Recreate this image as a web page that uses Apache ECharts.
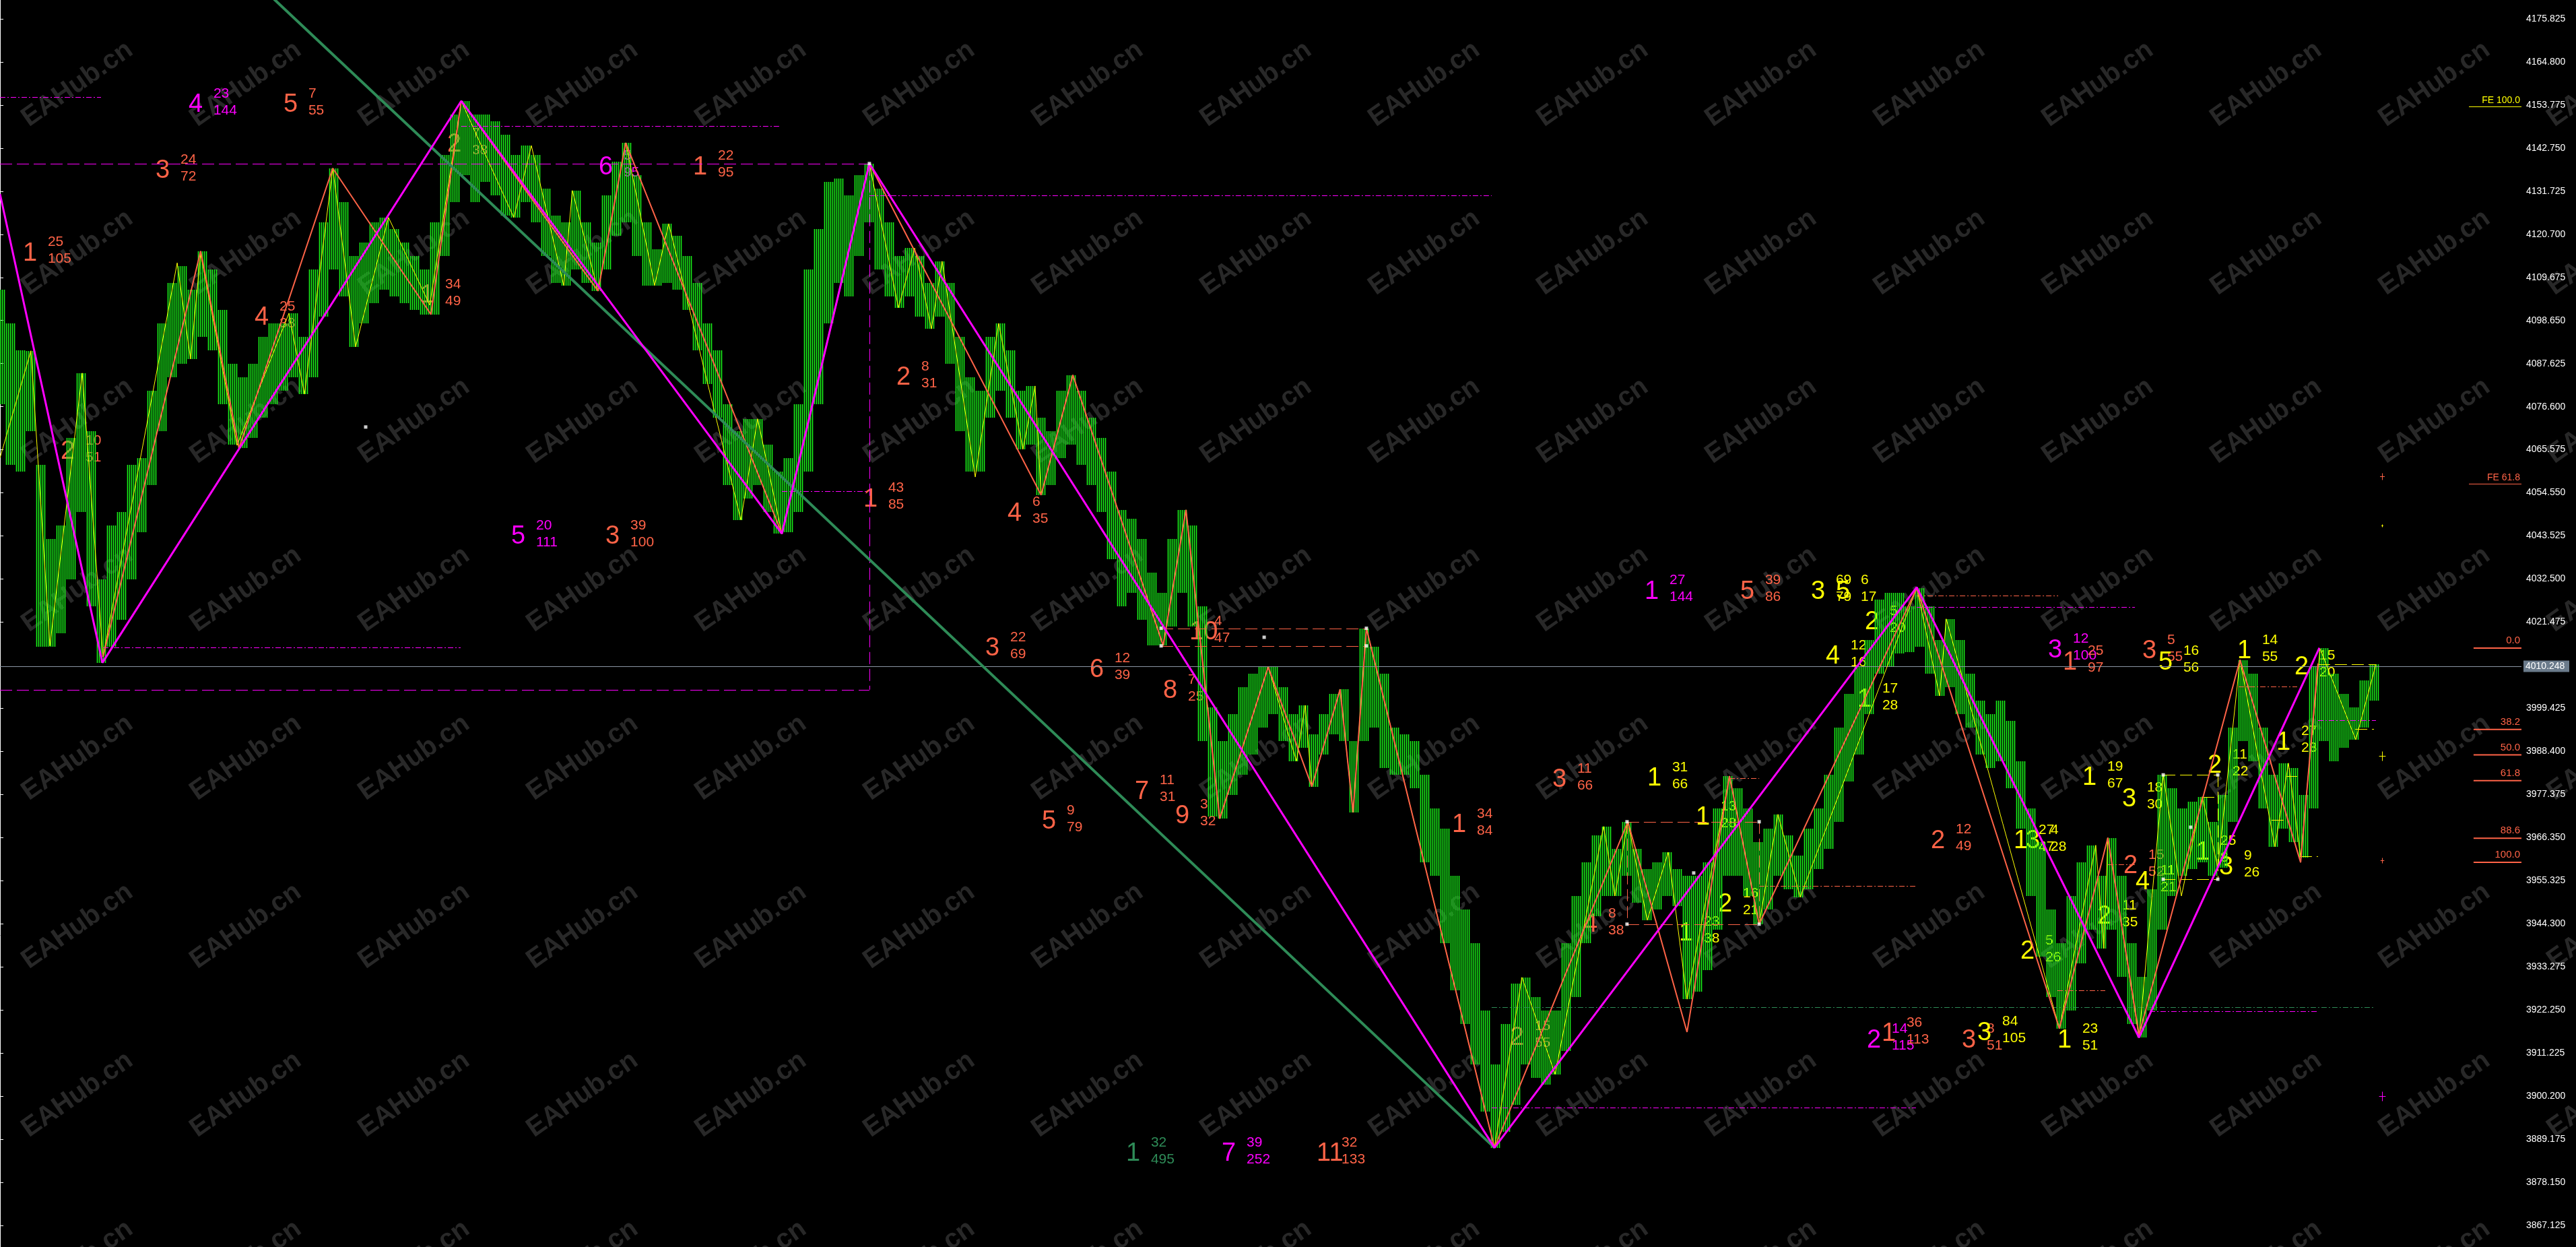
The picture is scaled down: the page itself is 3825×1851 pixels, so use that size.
<!DOCTYPE html>
<html><head><meta charset="utf-8">
<style>html,body{margin:0;padding:0;background:#000;}#c{width:3825px;height:1851px;}</style>
<script src="https://cdn.jsdelivr.net/npm/echarts@6/dist/echarts.min.js"></script>
</head><body><div id="c"></div>
<script>
// ---------- DATA ----------
const yTicks = [3867.125,3878.150,3889.175,3900.200,3911.225,3922.250,3933.275,3944.300,3955.325,3966.350,3977.375,3988.400,3999.425,4021.475,4032.500,4043.525,4054.550,4065.575,4076.600,4087.625,4098.650,4109.675,4120.700,4131.725,4142.750,4153.775,4164.800,4175.825];
const currentPrice = 4010.248;
// [bar, low, high]
const bars = [
[0,4077.2,4106.5],[5,4061.7,4097.9],[10,4060.0,4091.0],[15,4070.3,4090.9],[20,4015.2,4061.7],
[25,4015.2,4042.8],[30,4018.6,4046.2],[35,4032.4,4068.6],[40,4049.7,4085.2],[45,4025.5,4070.3],
[50,4011.1,4032.4],[55,4015.2,4046.2],[60,4022.1,4049.7],[65,4032.4,4061.7],[70,4044.5,4063.5],
[75,4056.6,4080.7],[80,4070.3,4097.9],[85,4084.1,4108.3],[90,4087.6,4112.6],[95,4088.8,4106.5],
[100,4094.5,4116.4],[105,4091.0,4111.7],[110,4077.2,4101.4],[115,4066.9,4087.6],[120,4066.0,4084.1],
[125,4068.6,4087.6],[130,4073.8,4094.5],[135,4077.2,4097.9],[140,4080.7,4097.9],[145,4084.1,4100.5],
[150,4079.8,4094.5],[155,4084.1,4111.7],[160,4099.6,4123.8],[165,4111.7,4137.6],[170,4104.8,4128.9],
[175,4091.9,4115.2],[180,4097.9,4118.6],[185,4103.1,4123.8],[190,4106.5,4125.0],[195,4104.8,4122.1],
[200,4103.1,4118.6],[205,4101.4,4115.2],[210,4100.2,4111.7],[215,4100.2,4123.8],[220,4115.2,4141.0],
[225,4128.9,4151.4],[230,4135.8,4154.8],[235,4128.9,4151.4],[240,4134.1,4151.4],[245,4130.7,4149.6],
[250,4125.5,4146.2],[255,4125.0,4141.0],[260,4128.9,4143.4],[265,4123.8,4141.0],[270,4115.2,4132.4],
[275,4108.3,4125.5],[280,4107.6,4123.8],[285,4111.7,4131.9],[290,4108.3,4123.8],[295,4106.2,4118.6],
[300,4111.7,4130.7],[305,4120.3,4139.3],[310,4123.8,4144.1],[315,4115.2,4135.8],[320,4107.6,4123.8],
[325,4107.6,4116.9],[330,4108.3,4123.4],[335,4106.5,4120.3],[340,4101.4,4115.2],[345,4091.0,4108.3],
[350,4082.4,4097.9],[355,4073.8,4091.0],[360,4056.6,4077.2],[365,4047.6,4070.3],[370,4053.1,4073.5],
[375,4056.6,4073.5],[380,4049.7,4066.9],[385,4044.1,4060.0],[390,4044.5,4063.5],[395,4049.7,4077.2],
[400,4060.0,4111.7],[405,4077.2,4122.1],[410,4097.9,4134.1],[415,4108.3,4135.0],[420,4104.8,4130.7],
[425,4115.2,4135.8],[430,4123.8,4138.8],[435,4111.7,4132.4],[440,4104.8,4123.8],[445,4101.9,4115.2],
[450,4104.8,4117.2],[455,4099.6,4115.2],[460,4096.5,4108.3],[465,4099.6,4113.8],[470,4087.6,4108.3],
[475,4070.3,4094.5],[480,4060.0,4084.1],[485,4060.0,4080.7],[490,4073.8,4094.5],[495,4080.7,4097.9],
[500,4073.8,4091.0],[505,4065.7,4080.7],[510,4066.9,4081.9],[515,4054.0,4073.8],[520,4056.6,4070.3],
[525,4063.5,4080.7],[530,4066.9,4084.7],[535,4061.7,4080.7],[540,4056.6,4073.8],[545,4049.7,4068.6],
[550,4037.6,4060.0],[555,4025.5,4050.2],[560,4029.0,4047.9],[565,4022.1,4042.8],[570,4015.5,4034.2],
[575,4015.5,4029.0],[580,4020.4,4042.8],[585,4029.0,4050.2],[590,4020.4,4046.2],[595,3991.1,4025.5],
[600,3971.8,3999.7],[605,3971.2,3991.1],[610,3977.3,3998.0],[615,3982.4,4004.9],[620,3987.6,4008.3],
[625,3994.5,4010.0],[630,3998.0,4010.0],[635,3991.1,4004.9],[640,3985.9,3998.0],[645,3989.3,4000.2],
[650,3979.4,3992.8],[655,3987.6,3998.0],[660,3992.8,4003.1],[665,3991.1,4004.3],[670,3972.8,3991.1],
[675,3991.1,4019.9],[680,3994.5,4015.2],[685,3984.2,4008.3],[690,3982.4,3994.5],[695,3982.4,3992.8],
[700,3979.0,3991.1],[705,3960.0,3982.4],[710,3956.6,3973.8],[715,3939.4,3968.7],[720,3927.3,3956.6],
[725,3918.7,3948.0],[730,3908.3,3939.4],[735,3896.3,3922.1],[740,3887.0,3908.3],[745,3891.1,3918.7],
[750,3898.0,3929.0],[755,3908.3,3930.6],[760,3904.9,3925.6],[765,3903.2,3922.1],[770,3905.8,3922.1],
[775,3911.8,3939.4],[780,3925.6,3951.4],[785,3939.4,3960.0],[790,3946.3,3966.9],[795,3951.4,3969.2],
[800,3951.4,3963.5],[805,3956.6,3970.4],[810,3949.7,3963.5],[815,3945.2,3958.3],[820,3948.0,3960.0],
[825,3951.4,3962.6],[830,3948.8,3958.3],[835,3925.0,3956.6],[840,3927.0,3956.6],[845,3932.5,3960.0],
[850,3942.8,3973.8],[855,3956.6,3982.1],[860,3956.6,3979.0],[865,3951.4,3973.8],[870,3944.2,3965.2],
[875,3948.0,3968.7],[880,3956.6,3972.3],[885,3953.1,3966.9],[890,3951.1,3961.8],[895,3953.1,3968.7],
[900,3958.3,3973.8],[905,3963.5,3982.4],[910,3970.4,3994.5],[915,3980.7,4003.1],[920,3987.6,4010.0],
[925,3998.0,4016.9],[930,4008.3,4027.3],[935,4010.0,4029.0],[940,4013.5,4029.0],[945,4013.8,4025.5],
[950,4015.2,4030.2],[955,4008.3,4025.5],[960,4002.6,4016.9],[965,4004.9,4022.3],[970,3998.0,4016.9],
[975,3994.5,4008.3],[980,3987.6,4001.4],[985,3984.2,3998.0],[990,3985.9,4001.4],[995,3979.0,3996.2],
[1000,3968.7,3985.9],[1005,3951.4,3973.8],[1010,3935.9,3965.2],[1015,3925.6,3948.0],[1020,3917.5,3939.4],
[1025,3922.1,3951.4],[1030,3934.2,3960.0],[1035,3942.8,3964.4],[1040,3938.0,3956.6],[1045,3942.8,3966.3],
[1050,3930.7,3956.6],[1055,3918.7,3939.4],[1060,3915.2,3930.7],[1065,3922.1,3953.1],[1070,3942.8,3982.4],
[1075,3951.4,3979.0],[1080,3956.6,3973.8],[1085,3958.3,3975.6],[1090,3960.0,3976.8],[1095,3956.6,3970.4],
[1100,3958.7,3977.3],[1105,3970.4,3994.5],[1110,3991.1,4011.8],[1115,3985.9,4008.3],[1120,3973.8,3994.5],
[1125,3964.0,3982.4],[1130,3968.7,3985.4],[1135,3965.2,3984.2],[1140,3961.3,3977.3],[1145,3973.8,4010.0],
[1150,3991.1,4014.9],[1155,3985.9,4008.3],[1160,3989.3,4003.1],[1165,3991.4,3999.7],[1170,3994.5,4006.6],
[1175,4001.4,4010.7]
];
const yellowZigzag = [[0,4063.5],[15.3,4090.9],[24.7,4015.4],[40.7,4085.2],[51,4012.6],[87.7,4113.4],[94.3,4088.8],[99.3,4115.7],[117.3,4066.7],[143,4100.5],[150.7,4079.8],[164.7,4137.6],[176,4091.9],[192.3,4125.0],[212.7,4102.6],[228.3,4154.8],[254.3,4125.0],[263,4143.4],[279,4107.6],[283.3,4131.9],[296,4106.2],[309.7,4144.1],[324,4107.6],[331,4123.4],[366.7,4047.6],[375,4073.5],[387,4044.1],[430.3,4138.8],[444.7,4101.9],[452.7,4117.2],[461,4096.5],[466.3,4113.8],[482.7,4058.6],[494.3,4097.9],[506.3,4065.7],[512.3,4081.9],[515.3,4054.0],[531,4084.7],[575.7,4015.5],[587,4050.2],[603.7,3971.2],[627.7,4010.0],[641.7,3985.9],[646,4000.2],[649.3,3979.4],[663.3,4004.3],[669.7,3972.8],[676.3,4019.9],[739.7,3887.0],[753.3,3930.6],[769.7,3905.8],[793.7,3969.2],[799.3,3951.4],[805.7,3970.4],[815.3,3945.2],[825.7,3962.6],[835,3925.0],[856,3982.1],[870.7,3944.2],[880,3972.3],[891,3951.1],[948.7,4030.2],[960,4002.6],[963.3,4022.3],[1019.3,3917.5],[1037.3,3964.4],[1041.3,3938.0],[1043.3,3966.3],[1058.7,3915.2],[1070.7,3982.4],[1079.7,3951.4],[1090,3976.8],[1097.7,3958.7],[1108.7,4011.8],[1126,3964.0],[1132.7,3985.4],[1138.7,3961.3],[1148.3,4014.7],[1166,3991.4],[1176,4010.7]];
const orangeZigzag = [[51,4012.6],[99.3,4116.4],[118.3,4066.0],[164.7,4137.6],[213.3,4100.2],[228.3,4154.8],[296,4106.2],[309.7,4144.1],[387,4044.1],[430.3,4138.8],[515.3,4054.0],[531,4084.7],[575.7,4015.5],[587,4050.2],[603.7,3971.2],[627.7,4010.0],[649.3,3979.4],[663.3,4004.3],[669.7,3972.8],[676.3,4019.9],[739.7,3887.0],[805.7,3970.4],[835,3916.6],[856,3982.1],[870.7,3944.2],[948.7,4030.2],[1019.3,3917.5],[1043.3,3966.3],[1058.7,3915.9],[1108.7,4011.8],[1138.7,3960.0],[1147.3,4010.9]];
const magentaZigzag = [[0,4131.0],[50.7,4011.1],[228.3,4154.8],[387,4044.1],[430.3,4138.8],[739.7,3887.0],[948.7,4030.4],[1058.7,3915.2],[1148,4014.9]];
const tealTrend = [[100,4198.2],[739.7,3887.0]];
// [barFrom, barTo, price, colour, style]
const hLines = [
[0,50,4155.8,'m','dd'],[0,430.3,4138.8,'m','d'],[228.3,386.3,4148.4,'m','dd'],[430.3,738.3,4130.7,'m','dd'],
[0,430.3,4004.2,'m','d'],[51,228,4015.0,'m','dd'],[387,429.7,4055.0,'m','dd'],
[574.7,676.3,4019.9,'o','d'],[574.7,676.3,4015.4,'o','d'],
[738.3,948.3,3897.3,'m','dd'],[738.3,1175,3923.0,'t','dd'],[1064,1147.3,3921.9,'m','dd'],
[870.7,948,3954.0,'o','dd'],[1018.3,1042,3927.3,'o','dd'],[1043.3,1057.3,3959.5,'o','dd'],
[948.7,1018.7,4028.3,'o','dd'],[948.7,1056.7,4025.4,'m','dd'],
[805.3,870.7,3970.4,'o','d'],[805.3,870.7,3944.2,'o','d'],[856,870.7,3981.6,'o','dd'],
[1070.7,1097.7,3982.4,'y','d'],[1070.7,1097.7,3955.7,'y','d'],[1108,1137,4005.0,'o','dd'],
[1147.3,1176,4010.7,'y','d'],[1147.3,1176,3996.4,'m','dd'],[1165.7,1175,3994.2,'y','d'],
[1138.3,1147.3,3961.5,'y','d'],[1090,1097.7,3976.8,'y','d'],[1124.3,1131.7,3970.9,'y','d'],[1131.7,1137,3982.1,'y','d'],
[0,1248,4010.248,'g','s']
];
// [bar, priceFrom, priceTo, colour, style]
const vLines = [[430.3,4138.8,4004.2,'m','d'],[805.3,3970.4,3944.2,'o','d'],[870.7,3970.4,3944.2,'o','d'],[1097.7,3982.4,3955.7,'y','d']];
const pivotMarkers = [[574.7,4019.9],[574.7,4015.4],[676.3,4019.9],[676.3,4015.4],[625.7,4017.6],[805.3,3970.4],[870.7,3970.4],[805.3,3944.2],[870.7,3944.2],[430.3,4138.8],[181,4071.4],[838.3,3957.3],[1070.7,3982.4],[1097.7,3982.4],[1070.7,3955.7],[1097.7,3955.7],[1084.3,3969.0]];
// [bar, price, colour, size]
const crosses = [[1179,4058.8,'o',5],[1179,4046.2,'y',2],[1179,3987.3,'y',7],[1179,3960.6,'o',4],[1179,3900.2,'m',7]];
// [bar, price, wave, top, bottom, colour]
const waveLabels = [
[11.3,4115.8,'1','25','105','o'],[93.3,4153.8,'4','23','144','m'],[140.3,4153.8,'5','7','55','o'],[77,4136.9,'3','24','72','o'],
[126,4099.3,'4','25','38','o'],[208,4105.0,'1','34','49','o'],[221.3,4143.6,'2','7','38','o'],[296.3,4137.9,'6','5','95','m'],
[343,4137.9,'1','22','95','o'],[253,4043.3,'5','20','111','m'],[299.7,4043.3,'3','39','100','o'],[427.3,4052.9,'1','43','85','o'],
[30,4065.0,'2','10','51','o'],[443.7,4084.0,'2','8','31','o'],[498.7,4049.3,'4','6','35','o'],[487.7,4014.7,'3','22','69','o'],
[539.3,4009.2,'6','12','39','o'],[588.7,4018.8,'10','4','47','o'],[575.7,4003.8,'8','7','25','o'],[561.7,3978.1,'7','11','31','o'],
[581.7,3971.9,'9','3','32','o'],[515.7,3970.4,'5','9','79','o'],[718.7,3969.5,'1','34','84','o'],[768.3,3981.1,'3','11','66','o'],
[815.3,3981.4,'1','31','66','y'],[557.3,3885.4,'1','32','495','t'],[604.7,3885.4,'7','39','252','m'],[651.7,3885.4,'11','32','133','o'],
[747.3,3915.1,'2','15','55','o'],[783.7,3944.0,'4','8','38','o'],[839.3,3971.4,'1','13','28','y'],[850.3,3949.2,'2','16','21','y'],
[831,3941.9,'1','23','38','y'],[814,4029.3,'1','27','144','m'],[861.3,4029.3,'5','39','86','o'],[896.3,4029.3,'3','69','79','y'],
[908.7,4029.3,'5','6','17','y'],[923,4021.4,'2','5','20','y'],[903.7,4012.6,'4','12','16','y'],[919.3,4001.6,'1','17','28','y'],
[1013.7,4014.2,'3','12','100','m'],[1021,4011.1,'1','25','97','o'],[1060.3,4014.0,'3','5','55','o'],[1068.3,4011.1,'5','16','56','y'],
[1107.3,4014.0,'1','14','55','y'],[1135.7,4010.0,'2','15','20','y'],[1126.7,3990.6,'1','27','23','y'],[1092.7,3984.7,'2','11','22','y'],
[1030.7,3981.6,'1','19','67','y'],[1050.3,3976.2,'3','18','30','y'],[955.7,3965.5,'2','12','49','o'],[996.7,3965.4,'1','27','47','y'],
[1002.7,3965.4,'3','4','28','y'],[1000,3937.1,'2','5','26','y'],[1018.3,3914.4,'1','23','51','y'],[1038,3946.1,'2','11','35','y'],
[1051,3959.0,'2','15','52','o'],[1057,3955.0,'4','11','21','y'],[1086.7,3962.6,'1','25','8','y'],[1098.3,3958.7,'3','9','26','y'],
[924,3914.4,'2','14','115','m'],[931.3,3916.1,'1','36','113','o'],[971,3914.4,'3','8','51','o'],[978.7,3916.3,'3','84','105','y']
];
const fibLevels = [['0.0',4014.85],['38.2',3994.0],['50.0',3987.5],['61.8',3980.9],['88.6',3966.2],['100.0',3960.0]];
const feLevels = [['FE 100.0',4153.5,'y'],['FE 61.8',4056.9,'o']];
const watermarkText = 'EAHub.cn';

// ---------- STYLE ----------
const COL = {o:'#ff6347', m:'#ff00ff', y:'#ffff00', t:'#2e8b57', g:'#8a96a3', w:'#ffffff'};
const DASH = {d:[18,7], dd:[8,3,2,3], s:null};
const FONT = '"Liberation Sans", Arial, sans-serif';
const X_MAX = 1248;

const wm = [];
for (let i = 0; i < 16; i++) for (let j = 0; j < 8; j++) {
  wm.push({type:'text', x:115 + 250*i, y:125 + 250*j, rotation: 35*Math.PI/180, silent:true, z:0,
    style:{text:watermarkText, fill:'#282828', font:'bold 40px ' + FONT, align:'center', verticalAlign:'middle'}});
}

const chart = echarts.init(document.getElementById('c'), null, {renderer:'canvas'});
const option = {
  backgroundColor:'#000',
  animation:false,
  graphic:{elements:wm},
  grid:{left:0, right:81, top:0, bottom:0},
  xAxis:{type:'value', min:0, max:X_MAX, show:false},
  yAxis:{type:'value', position:'right', min:3861.6, max:4180.65, scale:true,
    axisLine:{show:true, lineStyle:{color:'#ffffff', width:1}},
    axisTick:{show:true, length:5, customValues:yTicks, lineStyle:{color:'#ffffff'}},
    axisLabel:{show:true, customValues:yTicks, color:'#ffffff', fontSize:14, fontFamily:'Liberation Sans', margin:7,
      formatter:v => v.toFixed(3)},
    splitLine:{show:false}},
  series:[
    { // wave labels (behind bars)
      type:'custom', z:2, silent:true,
      data: waveLabels.map(d => [d[0], d[1]]),
      encode:{x:0, y:1},
      renderItem:(params, api) => {
        const d = waveLabels[params.dataIndex];
        const p = api.coord([d[0], d[1]]);
        const c = COL[d[5]];
        return {type:'group', children:[
          {type:'text', x:p[0], y:p[1], style:{text:d[2], fill:c, font:'38px ' + FONT, align:'left', verticalAlign:'middle'}},
          {type:'text', x:p[0]+37, y:p[1]-17, style:{text:d[3], fill:c, font:'21px ' + FONT, align:'left', verticalAlign:'middle'}},
          {type:'text', x:p[0]+37, y:p[1]+8, style:{text:d[4], fill:c, font:'21px ' + FONT, align:'left', verticalAlign:'middle'}}
        ]};
      }
    },
    { // price bars
      type:'custom', z:3, silent:true,
      data: bars, encode:{x:0, y:[1,2]},
      renderItem:(params, api) => {
        const b = api.value(0);
        const hi = api.coord([b, api.value(2)]), lo = api.coord([b, api.value(1)]);
        const unit = api.size([1, 0])[0];
        const ch = [];
        for (let k = -2; k <= 2; k++) {
          const x = Math.round(hi[0] + k*unit) + 0.5;
          ch.push({type:'line', shape:{x1:x, y1:Math.round(hi[1]), x2:x, y2:Math.round(lo[1])}, style:{stroke:'#19f019', lineWidth:1.6}});
        }
        return {type:'group', children:ch};
      }
    },
    { // horizontal level lines
      type:'custom', z:4, silent:true,
      data: hLines.map(d => [d[0], d[2]]), encode:{x:0, y:1},
      renderItem:(params, api) => {
        const d = hLines[params.dataIndex];
        const a = api.coord([d[0], d[2]]), b = api.coord([d[1], d[2]]);
        const y = Math.round(a[1]) + 0.5;
        return {type:'line', shape:{x1:a[0], y1:y, x2:b[0], y2:y}, style:{stroke:COL[d[3]], lineWidth:1, lineDash:DASH[d[4]]}};
      }
    },
    { // vertical level lines
      type:'custom', z:4, silent:true,
      data: vLines.map(d => [d[0], d[1]]), encode:{x:0, y:1},
      renderItem:(params, api) => {
        const d = vLines[params.dataIndex];
        const a = api.coord([d[0], d[1]]), b = api.coord([d[0], d[2]]);
        const x = Math.round(a[0]) + 0.5;
        return {type:'line', shape:{x1:x, y1:a[1], x2:x, y2:b[1]}, style:{stroke:COL[d[3]], lineWidth:1, lineDash:DASH[d[4]]}};
      }
    },
    {type:'line', z:5, data:yellowZigzag, showSymbol:false, silent:true, lineStyle:{color:COL.y, width:1}},
    {type:'line', z:6, data:orangeZigzag, showSymbol:false, silent:true, lineStyle:{color:COL.o, width:2}},
    {type:'line', z:7, data:tealTrend, showSymbol:false, silent:true, lineStyle:{color:COL.t, width:4}},
    {type:'line', z:8, data:magentaZigzag, showSymbol:false, silent:true, lineStyle:{color:COL.m, width:3}},
    {type:'scatter', z:9, data:pivotMarkers, symbol:'rect', symbolSize:5, silent:true, itemStyle:{color:'#ffffff'}},
    { // small crosses
      type:'custom', z:9, silent:true,
      data: crosses.map(d => [d[0], d[1]]), encode:{x:0, y:1},
      renderItem:(params, api) => {
        const d = crosses[params.dataIndex];
        const p = api.coord([d[0], d[1]]);
        const s = d[3], c = COL[d[2]];
        const x = Math.round(p[0]) + 0.5, y = Math.round(p[1]) + 0.5;
        return {type:'group', children:[
          {type:'line', shape:{x1:x, y1:y-s, x2:x, y2:y+s}, style:{stroke:c, lineWidth:1}},
          {type:'line', shape:{x1:x-s*0.7, y1:y, x2:x+s*0.7, y2:y}, style:{stroke:c, lineWidth:1}}
        ]};
      }
    },
    { // fibonacci retracement levels
      type:'custom', z:10, silent:true, clip:false,
      data: fibLevels.map(d => [X_MAX, d[1]]), encode:{x:0, y:1},
      renderItem:(params, api) => {
        const d = fibLevels[params.dataIndex];
        const a = api.coord([X_MAX - 23.7, d[1]]), b = api.coord([X_MAX, d[1]]);
        return {type:'group', children:[
          {type:'line', shape:{x1:a[0], y1:a[1], x2:b[0], y2:b[1]}, style:{stroke:COL.o, lineWidth:2}},
          {type:'text', x:b[0]-2, y:b[1]-11, style:{text:d[0], fill:COL.o, font:'15px ' + FONT, align:'right', verticalAlign:'middle'}}
        ]};
      }
    },
    { // fibonacci expansion levels
      type:'custom', z:10, silent:true, clip:false,
      data: feLevels.map(d => [X_MAX, d[1]]), encode:{x:0, y:1},
      renderItem:(params, api) => {
        const d = feLevels[params.dataIndex];
        const a = api.coord([X_MAX - 26, d[1]]), b = api.coord([X_MAX, d[1]]);
        const y = Math.round(a[1]) + 0.5;
        return {type:'group', children:[
          {type:'line', shape:{x1:a[0], y1:y, x2:b[0], y2:y}, style:{stroke:COL[d[2]], lineWidth:1}},
          {type:'text', x:b[0]-2, y:y-9, style:{text:d[0], fill:COL[d[2]], font:'14px ' + FONT, align:'right', verticalAlign:'middle'}}
        ]};
      }
    },
    { // current price box on axis
      type:'custom', z:11, silent:true, clip:false,
      data:[[X_MAX, currentPrice]], encode:{x:0, y:1},
      renderItem:(params, api) => {
        const p = api.coord([X_MAX, currentPrice]);
        return {type:'group', children:[
          {type:'rect', shape:{x:p[0]+3, y:p[1]-8, width:68, height:17}, style:{fill:'#6b7b8b'}},
          {type:'text', x:p[0]+6, y:p[1]+1, style:{text:currentPrice.toFixed(3), fill:'#ffffff', font:'14px ' + FONT, align:'left', verticalAlign:'middle'}}
        ]};
      }
    }
  ]
};
chart.setOption(option);
</script>
</body></html>
